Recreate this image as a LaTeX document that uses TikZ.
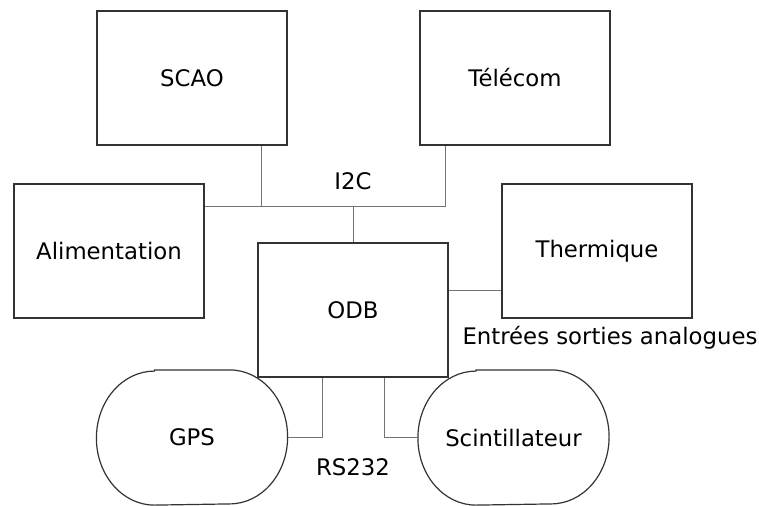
\documentclass[tikz,border=0pt]{standalone}
\usepackage{fontspec}
\setmainfont{DejaVu Sans}
\usepackage{tikz}
\usetikzlibrary{calc}

\begin{document}
\begin{tikzpicture}[x=0.5pt,y=0.5pt]
\tikzset{box/.style={draw=black!80,line width=0.6pt,minimum width=95pt,minimum height=67pt,inner sep=0pt,font=\fontsize{11.4}{13}\selectfont},
capsule/.style={box,draw=none},
link/.style={draw=black!55,line width=0.5pt},
tag/.style={font=\fontsize{11.4}{13}\selectfont}}
\pgfmathsetmacro{\rx}{58}
\pgfmathsetmacro{\ry}{67}
\useasboundingbox (0,0) rectangle (759,-505);
\node[box] (scao) at (192,-78) {SCAO};
\node[box] (telecom) at (515,-78) {Télécom};
\node[box] (alim) at (109,-251) {Alimentation};
\node[box] (therm) at (597,-251) {Thermique};
\node[box] (odb) at (353,-310) {ODB};
\node[capsule] (gps) at (192,-437.5) {GPS};
\node[capsule] (scint) at (513.5,-437.5) {Scintillateur};
\foreach \n in {gps,scint}
{
    \draw[box] ($(\n.north west)+(\rx,0)$) -- ($(\n.north east)+(-\rx,0)$)
    arc[start angle=90,end angle=-90,x radius=\rx,y radius=\ry]
    -- ($(\n.south west)+(\rx,0)$)
    arc[start angle=270,end angle=90,x radius=\rx,y radius=\ry] -- cycle;
}
\node[tag] (i2c) at (353,-181) {I2C};
\node[tag] (rs) at (353,-467) {RS232};
\node[tag] (ana) at (610,-338) {Entrées sorties analogues};
\coordinate (sc) at (261,-206);
\coordinate (tc) at (445,-206);
\coordinate (ai) at (475,-290);
\coordinate (gc) at (322,-437.5);
\coordinate (cc) at (384,-437.5);
\draw[link] (alim.east |- sc) -- (tc) -- (tc |- telecom.south);
\draw[link] (sc) -- (sc |- scao.south);
\draw[link] (odb.north) -- (odb.north |- sc);
\draw[link] (odb.east |- ai) -- (therm.west |- ai);
\draw[link] (gc |- odb.south) -- (gc) -- (gps.east);
\draw[link] (cc |- odb.south) -- (cc) -- (scint.west);
\end{tikzpicture}
\end{document}
